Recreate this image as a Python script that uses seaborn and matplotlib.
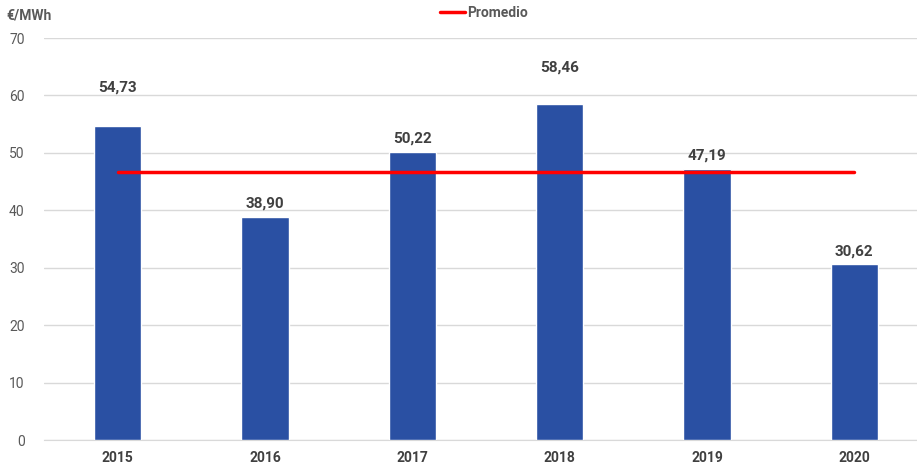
import seaborn as sns
import matplotlib.pyplot as plt
import pandas as pd

# Data
years = ["2015", "2016", "2017", "2018", "2019", "2020"]
prices = [54.73, 38.90, 50.22, 58.46, 47.19, 30.62]
label_offsets = [31, 6, 6, 30, 6, 6]  # label gap above bar, in pixels

df = pd.DataFrame({"Año": years, "Precio": prices})
promedio = df["Precio"].mean()

sns.set_style("white")
plt.rcParams["font.family"] = ["Roboto", "DejaVu Sans"]

fig = plt.figure(figsize=(9.17, 4.65), dpi=100)
# axes runs slightly past the right edge, like the source chart
ax = fig.add_axes([44 / 917, 1 - 440 / 465, 884 / 917, 402 / 465])

sns.barplot(data=df, x="Año", y="Precio", color="#2A50A3", width=0.32,
            saturation=1, ax=ax, zorder=3)

ax.plot(range(len(years)), [promedio] * len(years), color="#FF0000",
        linewidth=2.5, zorder=4, label="Promedio")

# value labels
for i, (v, off) in enumerate(zip(prices, label_offsets)):
    ax.annotate(f"{v:.2f}".replace(".", ","), (i, v), xytext=(0, off),
                textcoords="offset pixels", ha="center", va="bottom",
                fontsize=11, fontweight="bold", color="#404040")

ax.set_ylim(0, 70)
ax.set_yticks(range(0, 71, 10))
ax.set_xlim(-0.5, len(years) - 0.5)
ax.yaxis.grid(True, color="#D9D9D9", linewidth=1, zorder=0)
ax.set_axisbelow(True)
for s in ["top", "right", "left"]:
    ax.spines[s].set_visible(False)
ax.spines["bottom"].set_color("#D9D9D9")
ax.tick_params(axis="y", length=0, labelsize=10, labelcolor="#595959", pad=14)
ax.tick_params(axis="x", length=0, labelsize=10, labelcolor="#404040", pad=8)
for t in ax.get_xticklabels():
    t.set_fontweight("bold")
ax.set_xlabel("")
ax.set_ylabel("")

fig.text(6 / 917, 1 - 15 / 465, "€/MWh", fontsize=10, fontweight="bold",
         color="#595959", ha="left", va="center")

fig.legend(loc="center", bbox_to_anchor=(484 / 917, 1 - 13 / 465), frameon=False,
           handlelength=1.8, handletextpad=0.2,
           prop={"weight": "bold", "size": 10})
for t in fig.legends[0].get_texts():
    t.set_color("#595959")

fig.savefig("out.png", dpi=100)
